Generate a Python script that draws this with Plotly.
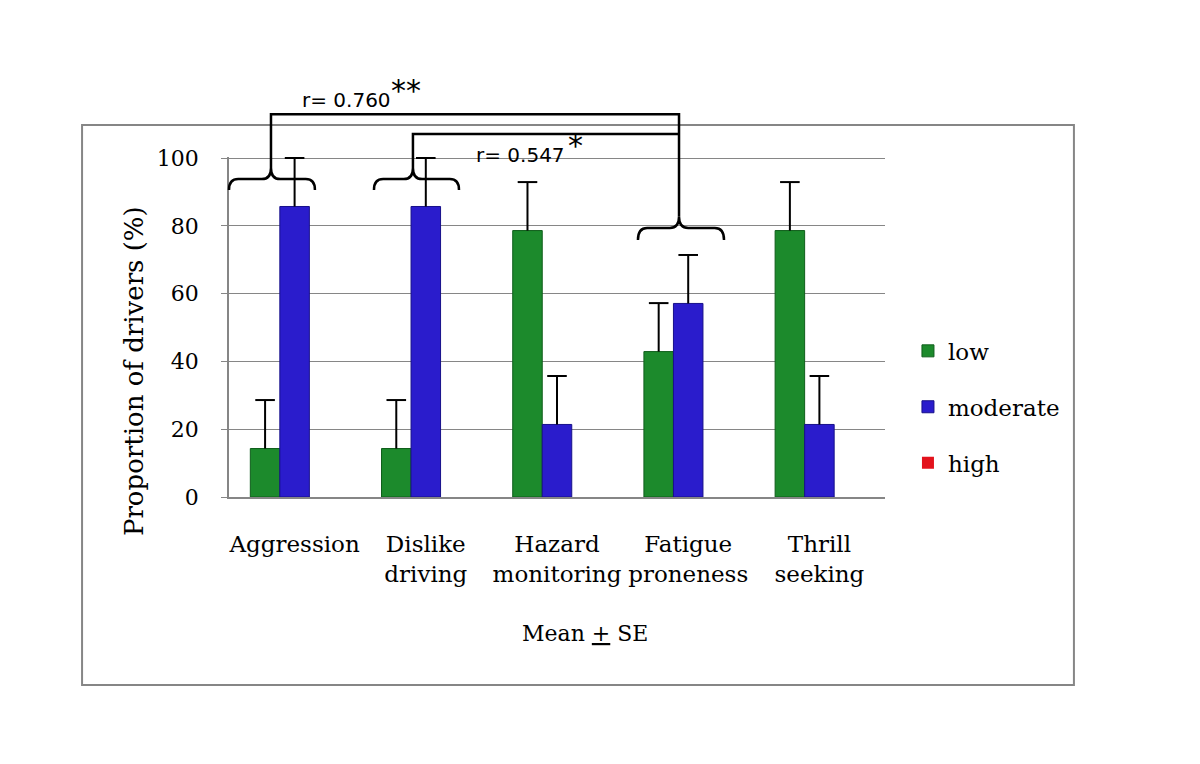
import plotly.graph_objects as go

categories = ["Aggression", "Dislike<br>driving", "Hazard<br>monitoring", "Fatigue<br>proneness", "Thrill<br>seeking"]
low = [14.3, 14.3, 78.6, 42.9, 78.6]
moderate = [85.7, 85.7, 21.4, 57.1, 21.4]
high = [0, 0, 0, 0, 0]
low_se = [14.3, 14.3, 14.3, 14.3, 14.3]
moderate_se = [14.3, 14.3, 14.3, 14.3, 14.3]
y_ticks = [0, 20, 40, 60, 80, 100]

SERIF = "DejaVu Serif"
N = len(categories)

fig = go.Figure()
fig.add_trace(go.Bar(name="low", x=categories, y=low, legendgroup="a", offsetgroup="1",
                     marker=dict(color="#1c8a2c", line=dict(color="#0f5e1b", width=1))))
fig.add_trace(go.Bar(name="moderate", x=categories, y=moderate, legendgroup="b", offsetgroup="2",
                     marker=dict(color="#2a1ccc", line=dict(color="#17108a", width=1))))
fig.add_trace(go.Bar(name="high", x=categories, y=high, legendgroup="c", offsetgroup="3",
                     marker=dict(color="#e3121c", line=dict(width=0))))

# one-sided error bars (upper only), drawn without a cap at the bar top
for vals, se, grp in [(low, low_se, "1"), (moderate, moderate_se, "2")]:
    tops = [v + s for v, s in zip(vals, se)]
    fig.add_trace(go.Scatter(x=categories, y=tops, mode="markers", offsetgroup=grp, showlegend=False,
                             hoverinfo="skip",
                             marker=dict(symbol="line-ew", size=14, color="black",
                                         line=dict(color="black", width=2)),
                             error_y=dict(type="data", symmetric=False, array=[0] * N, arrayminus=se,
                                          color="black", thickness=2, width=0)))


def cx(i, off):
    """category index + offset (category units) -> paper x"""
    return (i + 0.5 + off) / N


def py(v):
    return v / 100.0


def brace(i, x0, x1, xp, yend, yh, ypk):
    r = 0.014
    X0, X1, XP = cx(i, x0), cx(i, x1), cx(i, xp)
    Ye, Yh, Yp = py(yend), py(yh), py(ypk)
    return (f"M{X0},{Ye} Q{X0},{Yh} {X0 + r},{Yh} L{XP - r},{Yh} Q{XP},{Yh} {XP},{Yp} "
            f"Q{XP},{Yh} {XP + r},{Yh} L{X1 - r},{Yh} Q{X1},{Yh} {X1},{Ye}")


shapes = []
line = dict(color="black", width=2.5)
# braces
shapes.append(dict(type="path", xref="paper", yref="paper", path=brace(0, -0.5, 0.155, -0.18, 90.3, 93.5, 96.8), line=line))
shapes.append(dict(type="path", xref="paper", yref="paper", path=brace(1, -0.395, 0.253, -0.098, 90.3, 93.5, 96.8), line=line))
shapes.append(dict(type="path", xref="paper", yref="paper", path=brace(3, -0.383, 0.273, -0.07, 75.6, 79.1, 82.4), line=line))
# connectors
p_top = (f"M{cx(0, -0.18)},{py(96.8)} L{cx(0, -0.18)},{py(112.6)} L{cx(3, -0.07)},{py(112.6)} "
         f"L{cx(3, -0.07)},{py(82.4)}")
shapes.append(dict(type="path", xref="paper", yref="paper", path=p_top, line=line))
p_mid = (f"M{cx(1, -0.098)},{py(96.8)} L{cx(1, -0.098)},{py(106.8)} L{cx(3, -0.07)},{py(106.8)}")
shapes.append(dict(type="path", xref="paper", yref="paper", path=p_mid, line=line))
# outer frame
shapes.append(dict(type="rect", xref="paper", yref="paper", x0=-0.224, x1=1.288, y0=-0.553, y1=1.094,
                   line=dict(color="#868686", width=2), layer="below"))

annotations = [
    dict(text="r= 0.760", x=cx(0, 0.04), y=py(116.8), xref="paper", yref="paper", showarrow=False,
         xanchor="left", yanchor="middle", font=dict(family="DejaVu Sans", size=20, color="black")),
    dict(text="**", x=cx(0, 0.72), y=py(119.5), xref="paper", yref="paper", showarrow=False,
         xanchor="left", yanchor="middle", font=dict(family="DejaVu Sans", size=30, color="black")),
    dict(text="r= 0.547", x=cx(1, 0.37), y=py(100.6), xref="paper", yref="paper", showarrow=False,
         xanchor="left", yanchor="middle", font=dict(family="DejaVu Sans", size=20, color="black")),
    dict(text="*", x=cx(1, 1.07), y=py(103.3), xref="paper", yref="paper", showarrow=False,
         xanchor="left", yanchor="middle", font=dict(family="DejaVu Sans", size=30, color="black")),
    dict(text="Mean <u>+</u> SE", x=0.543, y=-0.40, xref="paper", yref="paper", showarrow=False,
         xanchor="center", yanchor="middle", font=dict(family=SERIF, size=22, color="black")),
    dict(text="Proportion of drivers (%)", x=-0.145, y=0.37, xref="paper", yref="paper", showarrow=False,
         textangle=-90, xanchor="center", yanchor="middle", font=dict(family=SERIF, size=26, color="black")),
]

fig.update_layout(
    width=1200, height=764,
    margin=dict(l=221, r=323, t=149, b=275),
    paper_bgcolor="white", plot_bgcolor="white",
    barmode="group", bargap=0.325, bargroupgap=0,
    scattermode="group", scattergap=0.325,
    font=dict(family=SERIF, size=22, color="black"),
    showlegend=True,
    legend=dict(x=1.035, y=0.265, xanchor="left", yanchor="middle", tracegroupgap=23,
                itemwidth=30, font=dict(family=SERIF, size=23, color="black"),
                bgcolor="rgba(0,0,0,0)"),
    shapes=shapes,
    annotations=annotations,
)
fig.update_xaxes(showline=True, linecolor="#868686", linewidth=1.5, ticks="", showgrid=False,
                 ticklabelstandoff=26,
                 tickfont=dict(family=SERIF, size=23, color="black"))
fig.update_yaxes(range=[0, 100.3], tickvals=y_ticks, showline=True, linecolor="#868686", linewidth=1.5,
                 ticks="outside", ticklen=6, tickcolor="#868686", showgrid=True, gridcolor="#868686",
                 gridwidth=1, zeroline=False, ticklabelstandoff=18,
                 tickfont=dict(family=SERIF, size=22, color="black"))

fig.write_html("out.html")
